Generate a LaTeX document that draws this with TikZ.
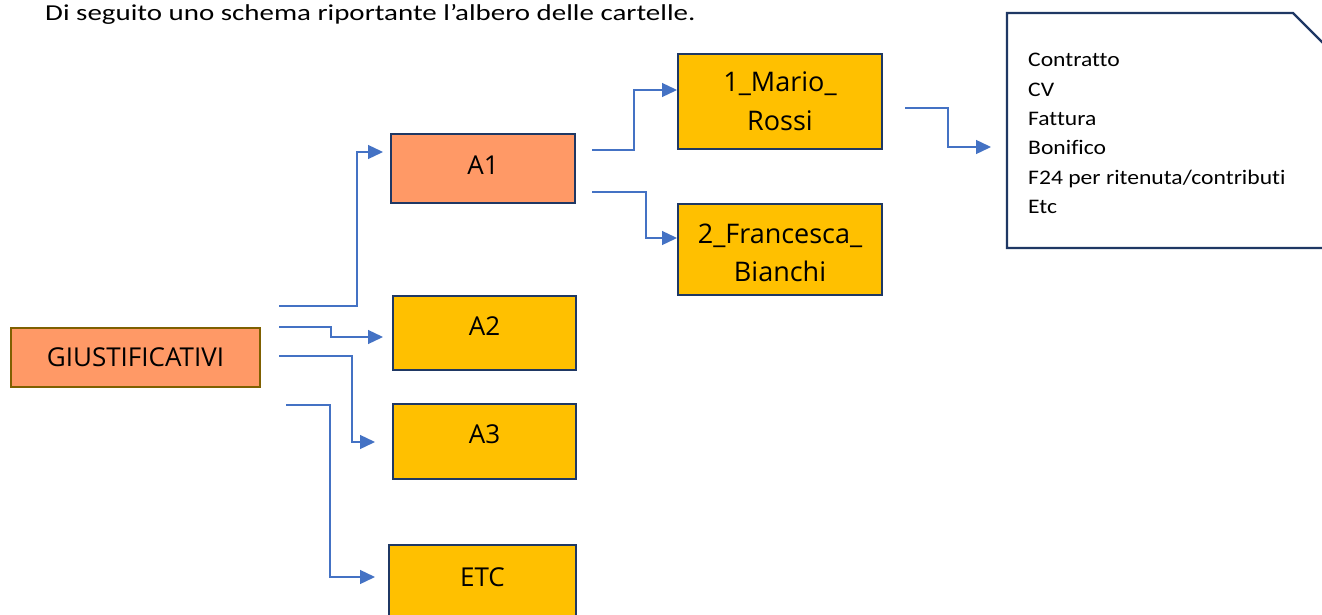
\documentclass[tikz,border=0pt]{standalone}
\usepackage{fontspec}
\setmainfont{Open Sans}
\newfontfamily\titlefont[FakeStretch=1.27,Ligatures=NoCommon]{Carlito}
\newfontfamily\docfont[FakeStretch=1.14,Ligatures=NoCommon]{Carlito}
\usetikzlibrary{arrows.meta}
\definecolor{salmon}{HTML}{FF9966}
\definecolor{gold}{HTML}{FFC000}
\definecolor{navy}{HTML}{1F3864}
\definecolor{olivebrd}{HTML}{7F6000}
\definecolor{conn}{HTML}{4472C4}
\begin{document}
\begin{tikzpicture}[x=1pt,y=-1pt,
  folder/.style={draw=navy,line width=2.7pt,fill=gold,inner sep=0pt,
    font=\fontsize{26}{38}\selectfont,align=center},
  rootbox/.style={folder,fill=salmon},
  link/.style={draw=conn,line width=1.3pt,-{Triangle[length=15pt,width=14pt]}},
  doctext/.style={inner sep=0pt,align=left,font=\docfont\fontsize{20.7}{29.4}\selectfont}
]
\useasboundingbox (0,0) rectangle (1322,615);
\fill[white] (0,0) rectangle (1322,615);
% title
\node[anchor=base west,inner sep=0pt,font=\titlefont\fontsize{22.8}{26}\selectfont] (title) at (45,21)
  {Di seguito uno schema riportante l’albero delle cartelle.};
% boxes
\node[rootbox,draw=olivebrd,minimum width=249pt,minimum height=59pt] (giust) at (135.5,357.5) {GIUSTIFICATIVI};
\node[rootbox,minimum width=184pt,minimum height=69pt] (a1) at (483,168.5) {\raisebox{3pt}[\height][\depth]{A1}};
\node[folder,minimum width=204pt,minimum height=95pt,font=\fontsize{27}{39}\selectfont] (mario) at (780,101.5) {1\_Mario\_\\Rossi};
\node[folder,minimum width=204pt,minimum height=91pt,font=\fontsize{27}{38}\selectfont] (franc) at (780,249.5) {\raisebox{-3pt}[\height][\depth]{2\_Francesca\_}\\\raisebox{-3pt}[\height][\depth]{Bianchi}};
\node[folder,minimum width=183pt,minimum height=74pt] (a2) at (484.5,333) {\raisebox{7pt}[\height][\depth]{A2}};
\node[folder,minimum width=183pt,minimum height=75pt] (a3) at (484.5,441.5) {\raisebox{7pt}[\height][\depth]{A3}};
\node[folder,minimum width=187pt,minimum height=74pt] (etc) at (482.5,582) {\raisebox{5pt}[\height][\depth]{ETC}};
% document
\draw[draw=navy,line width=2.2pt,fill=white,line join=miter]
  (1007,248) -- (1007,13) -- (1293,13) -- (1340,60) -- (1340,248) -- cycle;
\node[doctext,anchor=base west] (doc) at (1028,213.7)
  {Contratto\\CV\\Fattura\\Bonifico\\F24 per ritenuta/contributi\\Etc};
% connector ends
\coordinate (s1) at (279,306);  \coordinate (t1) at (383,152);
\coordinate (s2) at (279,327);  \coordinate (t2) at (383,337);
\coordinate (s3) at (279,356);  \coordinate (t3) at (375,442);
\coordinate (s4) at (286,405);  \coordinate (t4) at (375,577);
\coordinate (s5) at (592,150);  \coordinate (t5) at (677,90);
\coordinate (s6) at (592,192);  \coordinate (t6) at (677,238);
\coordinate (s7) at (905,108);  \coordinate (t7) at (991,147);
\draw[link] (s1) -- (357,306) |- (t1);
\draw[link] (s2) -- (331,327) |- (t2);
\draw[link] (s3) -- (352,356) |- (t3);
\draw[link] (s4) -- (330,405) |- (t4);
\draw[link] (s5) -- (634,150) |- (t5);
\draw[link] (s6) -- (646,192) |- (t6);
\draw[link] (s7) -- (948,108) |- (t7);
\end{tikzpicture}
\end{document}
